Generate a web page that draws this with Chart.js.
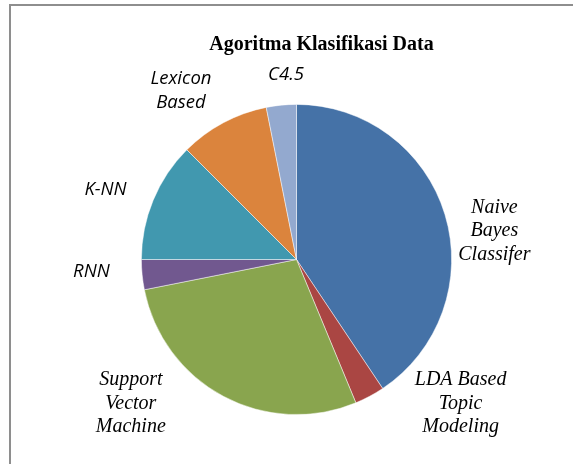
<!DOCTYPE html>
<html>
<head>
<meta charset="utf-8">
<script src="https://cdn.jsdelivr.net/npm/chart.js@4.4.1/dist/chart.umd.min.js"></script>
<style>
  html, body { margin: 0; padding: 0; background: #fff; overflow: hidden; }
  #wrap { position: relative; width: 573px; height: 464px; }
  #frame { position: absolute; left: 9px; top: 4px; width: 640px; height: 540px;
           border-top: 2px solid #8e8e8e; border-left: 2px solid #8e8e8e; }
  canvas { position: absolute; left: 0; top: 0; }
</style>
</head>
<body>
<div id="wrap">
  <div id="frame"></div>
  <canvas id="pieChart" width="573" height="464"></canvas>
</div>
<script>
const chartTitle = 'Agoritma Klasifikasi Data';

// slice labels, one entry per line as they wrap in the picture
const categories = [
    ['Naive', 'Bayes', 'Classifer'],
    ['LDA Based', 'Topic', 'Modeling'],
    ['Support', 'Vector', 'Machine'],
    ['RNN'],
    ['K-NN'],
    ['Lexicon', 'Based'],
    ['C4.5']
];
const counts = [13, 1, 9, 1, 4, 3, 1];
const sliceColors = ['#4572A7', '#AA4643', '#89A54E', '#71588F', '#4198AF', '#DB843D', '#93A9CF'];

const serifItalic = 'italic 20px "Liberation Serif", "Times New Roman", serif';
const sansItalic = 'italic 18.5px "Open Sans", "Noto Sans", sans-serif';

// draws the title and the outside labels around the pie
const sliceLabels = {
    id: 'sliceLabels',
    afterDatasetsDraw(chart, args, opts) {
        const ctx = chart.ctx;
        const arcs = chart.getDatasetMeta(0).data;
        ctx.save();
        ctx.fillStyle = '#000';
        ctx.textAlign = 'center';
        ctx.textBaseline = 'middle';

        arcs.forEach((arc, i) => {
            const mid = (arc.startAngle + arc.endAngle) / 2 + opts.shift[i] * Math.PI / 180;
            const r = arc.outerRadius * opts.dist[i];
            const x = arc.x + Math.cos(mid) * r;
            const y = arc.y + Math.sin(mid) * r;
            const lines = chart.data.labels[i];
            ctx.font = i < 3 ? serifItalic : sansItalic;
            const top = y - (lines.length - 1) * opts.lineHeight / 2;
            lines.forEach((line, j) => ctx.fillText(line, x, top + j * opts.lineHeight));
        });

        const first = arcs[0];
        ctx.font = 'bold 20px "Liberation Serif", "Times New Roman", serif';
        ctx.fillText(chartTitle, first.x + opts.titleDx, first.y - first.outerRadius + opts.titleDy);
        ctx.restore();
    }
};

new Chart(document.getElementById('pieChart'), {
    type: 'pie',
    data: {
        labels: categories,
        datasets: [{
            data: counts,
            backgroundColor: sliceColors,
            borderColor: 'rgba(255,255,255,0.6)',
            borderWidth: 0.8,
            hoverOffset: 0
        }]
    },
    options: {
        responsive: false,
        animation: false,
        layout: { padding: { top: 104, bottom: 49, left: 141, right: 121 } },
        plugins: {
            legend: { display: false },
            tooltip: { enabled: false },
            sliceLabels: {
                shift: [8.7, -20.6, 20.9, 2.1, -2.3, -6.3, 2.4],
                dist: [1.289, 1.408, 1.415, 1.325, 1.312, 1.318, 1.196],
                lineHeight: 23.5,
                titleDx: 25,
                titleDy: -60
            }
        }
    },
    plugins: [sliceLabels]
});
</script>
</body>
</html>
